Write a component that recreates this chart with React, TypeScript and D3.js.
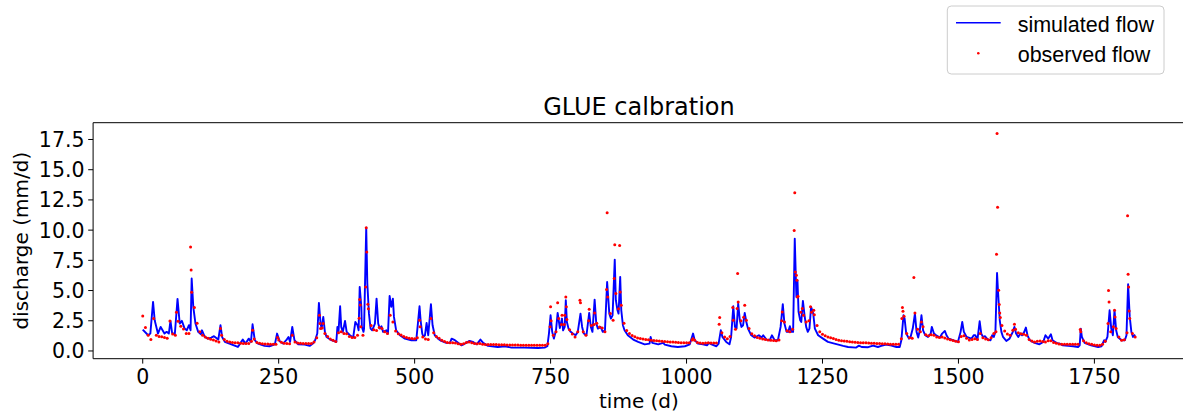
import React from "react";
import * as d3 from "d3";

// ---------- data ----------
const simDays = [
  0, 10, 14, 19, 22, 28, 33, 40, 44, 48, 51, 54, 59, 64, 68, 72, 77, 81, 85, 88,
  90, 93, 97, 102, 107, 109, 114, 120, 126, 131, 139, 143, 146, 151, 163, 175, 180, 184, 189, 195,
  199, 202, 206, 212, 224, 233, 243, 247, 252, 258, 264, 268, 271, 275, 279, 286, 298, 307, 313, 317,
  321, 324, 327, 329, 332, 335, 338, 347, 356, 358, 360, 363, 365, 368, 372, 375, 381, 387, 391, 395,
  397, 399, 402, 403, 406, 407, 411, 413, 416, 419, 422, 427, 430, 433, 436, 439, 442, 448, 451, 454,
  457, 460, 462, 466, 473, 482, 494, 503, 506, 509, 511, 514, 516, 519, 522, 525, 530, 533, 537, 543,
  549, 558, 565, 568, 574, 586, 595, 601, 607, 614, 621, 626, 635, 653, 666, 678, 702, 727, 739, 744,
  747, 750, 753, 756, 760, 763, 767, 771, 773, 776, 778, 780, 783, 787, 791, 796, 800, 805, 808, 811,
  816, 821, 824, 827, 831, 834, 837, 842, 846, 850, 854, 858, 861, 864, 868, 870, 873, 875, 878, 880,
  883, 886, 892, 902, 911, 923, 932, 934, 937, 948, 957, 960, 972, 984, 997, 1006, 1012, 1015, 1021, 1030,
  1038, 1041, 1046, 1055, 1059, 1063, 1066, 1073, 1079, 1082, 1086, 1089, 1092, 1095, 1098, 1101, 1104, 1107, 1110, 1113,
  1119, 1125, 1133, 1138, 1141, 1147, 1153, 1157, 1162, 1168, 1173, 1177, 1180, 1184, 1187, 1190, 1193, 1196, 1199, 1202,
  1204, 1206, 1209, 1211, 1214, 1217, 1220, 1223, 1226, 1229, 1233, 1236, 1242, 1251, 1260, 1272, 1288, 1297, 1312, 1317,
  1322, 1334, 1343, 1352, 1358, 1367, 1377, 1386, 1392, 1395, 1399, 1401, 1404, 1409, 1412, 1416, 1420, 1423, 1426, 1429,
  1432, 1435, 1439, 1444, 1449, 1451, 1455, 1459, 1466, 1470, 1475, 1478, 1482, 1490, 1499, 1504, 1507, 1510, 1515, 1524,
  1528, 1531, 1535, 1539, 1542, 1545, 1549, 1554, 1559, 1562, 1565, 1568, 1571, 1573, 1576, 1579, 1582, 1588, 1594, 1600,
  1603, 1606, 1610, 1614, 1617, 1621, 1624, 1627, 1631, 1640, 1649, 1656, 1660, 1665, 1670, 1673, 1680, 1686, 1692, 1702,
  1711, 1720, 1723, 1725, 1727, 1732, 1744, 1757, 1763, 1768, 1770, 1774, 1778, 1781, 1784, 1787, 1790, 1793, 1800, 1806,
  1809, 1812, 1815, 1818, 1821, 1825,
];

const simValues = [
  1.77, 1.30, 1.44, 4.06, 2.54, 1.44, 1.99, 1.44, 1.58, 1.44, 2.49, 1.49, 1.38, 4.31, 2.27, 2.49, 1.85, 1.71, 2.13, 1.71,
  6.0, 3.65, 2.27, 1.58, 1.38, 1.71, 1.16, 1.02, 1.11, 1.22, 0.94, 2.13, 1.16, 0.75, 0.55, 0.33, 0.67, 0.94, 0.61, 1.02,
  0.75, 2.21, 0.89, 0.61, 0.42, 0.39, 0.55, 1.44, 0.80, 0.61, 0.89, 1.16, 0.75, 1.99, 0.89, 0.55, 0.53, 0.42, 0.61, 0.89,
  1.44, 3.98, 2.27, 1.85, 2.82, 1.58, 1.16, 0.89, 0.75, 1.99, 1.58, 3.70, 1.99, 1.58, 2.49, 1.58, 1.30, 1.11, 2.40, 2.13,
  1.71, 5.30, 3.65, 1.99, 1.58, 1.85, 10.21, 5.58, 3.09, 1.85, 1.71, 2.27, 4.33, 2.27, 1.85, 2.05, 1.58, 1.71, 1.44, 4.55,
  3.65, 4.33, 2.82, 1.71, 1.30, 1.02, 0.89, 0.89, 2.27, 3.70, 2.54, 1.44, 1.16, 1.30, 2.32, 1.30, 3.87, 2.13, 1.30, 1.02,
  0.83, 0.67, 0.67, 1.02, 0.89, 0.47, 0.67, 0.83, 0.75, 0.55, 0.94, 0.67, 0.42, 0.33, 0.39, 0.28, 0.28, 0.25, 0.28, 0.39,
  1.44, 2.95, 1.58, 1.02, 1.71, 3.15, 1.90, 2.68, 1.71, 1.99, 4.20, 2.40, 1.85, 1.58, 1.44, 1.30, 1.58, 3.09, 1.99, 1.44,
  1.30, 3.15, 1.99, 1.58, 4.25, 2.27, 1.85, 1.99, 1.58, 1.71, 5.71, 3.09, 2.68, 2.95, 7.56, 4.20, 3.37, 3.09, 6.13, 3.37,
  2.13, 1.71, 1.30, 0.94, 0.75, 0.55, 0.61, 1.16, 0.67, 0.55, 0.67, 0.53, 0.39, 0.33, 0.39, 0.55, 1.44, 0.89, 0.61, 0.55,
  0.47, 0.67, 0.55, 0.39, 0.61, 1.71, 1.16, 0.75, 0.55, 1.16, 3.70, 1.99, 1.85, 3.92, 2.54, 1.99, 2.13, 3.15, 2.40, 1.85,
  1.30, 1.11, 1.30, 1.11, 1.30, 0.94, 0.89, 1.30, 0.89, 0.89, 1.99, 3.87, 2.27, 1.58, 1.58, 2.05, 1.58, 1.58, 9.30, 4.47,
  5.85, 3.23, 2.54, 2.40, 4.14, 2.95, 1.99, 1.58, 1.85, 3.65, 3.09, 1.85, 1.30, 1.02, 0.75, 0.61, 0.42, 0.33, 0.28, 0.44,
  0.33, 0.31, 0.44, 0.33, 0.42, 0.53, 0.44, 0.33, 0.33, 0.89, 2.95, 2.68, 1.44, 1.02, 1.16, 1.85, 3.09, 1.58, 1.11, 1.71,
  2.95, 1.71, 1.30, 1.16, 1.44, 1.99, 1.44, 1.30, 1.11, 1.44, 1.66, 1.30, 1.02, 0.89, 0.75, 1.58, 2.40, 1.58, 1.16, 1.02,
  1.30, 1.30, 0.94, 2.46, 1.44, 1.16, 1.22, 0.94, 0.89, 1.30, 1.16, 1.58, 6.45, 4.75, 2.54, 1.58, 1.16, 0.83, 1.02, 1.58,
  1.99, 1.44, 1.16, 1.44, 1.30, 1.58, 1.94, 1.30, 0.89, 0.67, 0.55, 0.75, 1.30, 1.02, 1.38, 0.89, 0.67, 0.61, 0.47, 0.42,
  0.39, 0.33, 0.47, 1.85, 1.16, 0.67, 0.47, 0.33, 0.39, 0.89, 0.75, 1.16, 3.37, 1.85, 1.30, 3.37, 1.71, 1.16, 0.89, 0.89,
  1.30, 5.52, 2.82, 1.58, 1.16, 1.35,
];

// observed flow, one reading every 5 days (day 0, 5, 10, ... 1825)
const obsStep = 5;
const obsValues = [
  2.90, 1.95, 1.30, 0.95, 2.68, 1.30, 1.20, 1.17, 1.12, 1.05,
  2.49, 1.40, 1.30, 2.45, 2.05, 1.82, 1.44, 1.44, 4.85, 3.60,
  2.30, 1.58, 1.30, 1.15, 1.05, 0.96, 0.90, 0.82, 0.75, 1.30,
  0.95, 0.80, 0.74, 0.70, 0.68, 0.67, 0.64, 0.62, 0.61, 0.62,
  0.80, 1.00, 0.70, 0.63, 0.60, 0.58, 0.57, 0.55, 0.55, 0.56,
  0.90, 0.72, 0.63, 0.61, 0.60, 1.30, 0.75, 0.66, 0.63, 0.62,
  0.61, 0.61, 0.61, 0.75, 1.10, 2.95, 1.90, 1.44, 1.20, 1.00,
  0.88, 0.78, 1.50, 1.60, 1.45, 1.42, 1.20, 1.12, 1.11, 1.30,
  3.80, 1.30, 5.30, 3.50, 2.10, 1.75, 1.70, 1.95, 1.85, 1.58,
  1.45, 2.95, 2.40, 1.65, 1.42, 1.32, 1.20, 1.11, 1.06, 1.04,
  1.02, 1.10, 2.00, 1.15, 1.00, 0.94, 2.68, 1.50, 1.20, 1.05,
  0.89, 0.78, 0.70, 0.67, 0.67, 0.66, 0.60, 0.56, 0.60, 0.70,
  0.74, 0.68, 0.62, 0.60, 0.61, 0.56, 0.53, 0.53, 0.53, 0.53,
  0.53, 0.52, 0.52, 0.51, 0.50, 0.50, 0.50, 0.50, 0.49, 0.48,
  0.47, 0.47, 0.47, 0.47, 0.47, 0.47, 0.47, 0.47, 0.47, 0.60,
  3.65, 1.30, 1.60, 2.68, 2.20, 2.20, 2.60, 1.75, 1.40, 1.16,
  1.58, 3.98, 1.58, 1.30, 2.50, 2.10, 2.20, 2.30, 1.99, 1.90,
  1.58, 4.47, 3.10, 2.54, 4.75, 3.50, 3.78, 2.30, 1.70, 1.45,
  1.28, 1.18, 1.08, 1.03, 0.98, 0.95, 0.92, 0.89, 0.87, 0.85,
  0.83, 0.81, 0.79, 0.77, 0.75, 0.74, 0.72, 0.70, 0.69, 0.68,
  0.67, 0.67, 0.90, 0.89, 0.70, 0.66, 0.64, 0.65, 0.67, 0.66,
  0.66, 0.66, 2.21, 1.50, 1.15, 1.02, 1.20, 3.59, 1.80, 4.06,
  2.50, 2.80, 2.54, 1.85, 1.42, 1.25, 1.12, 1.05, 0.98, 0.94,
  0.91, 0.89, 0.87, 0.85, 0.90, 2.50, 2.40, 1.68, 1.58, 1.80,
  6.54, 4.52, 3.20, 2.95, 2.40, 2.50, 3.20, 3.00, 2.10, 1.60,
  1.38, 1.25, 1.16, 1.10, 1.04, 0.95, 0.89, 0.85, 0.82, 0.80,
  0.77, 0.75, 0.73, 0.71, 0.69, 0.68, 0.67, 0.65, 0.64, 0.63,
  0.62, 0.61, 0.60, 0.59, 0.58, 0.56, 0.55, 0.55, 0.55, 1.02,
  2.87, 1.45, 1.10, 1.05, 3.15, 1.80, 1.60, 2.00, 1.35, 1.25,
  1.35, 1.30, 1.15, 1.12, 1.15, 1.08, 1.00, 0.92, 0.87, 0.80,
  0.76, 1.20, 1.25, 1.05, 0.90, 0.95, 1.02, 0.95, 1.44, 1.10,
  1.00, 0.93, 1.10, 1.45, 8.00, 3.84, 2.10, 1.65, 1.40, 1.30,
  1.71, 1.80, 1.50, 1.42, 1.38, 1.30, 0.95, 0.82, 0.75, 0.80,
  0.82, 0.78, 0.75, 0.85, 0.85, 0.70, 0.64, 0.58, 0.55, 0.55,
  0.55, 0.55, 0.55, 0.55, 0.55, 1.60, 0.85, 0.68, 0.60, 0.55,
  0.50, 0.48, 0.48, 0.55, 0.80, 2.27, 1.60, 2.00, 1.85, 1.15,
  0.89, 0.92, 1.50, 2.68, 1.45, 1.16,
];

// additional observed readings inside the flood peaks
const obsPeakDays = [
  62, 88, 89, 143, 202, 248, 326, 327, 332, 398, 399, 401, 411, 412, 414, 509,
  749, 751, 763, 771, 776, 778, 779, 804, 821, 831, 853, 854, 867, 868, 877, 878,
  1012, 1061, 1086, 1093, 1094, 1107, 1176, 1198, 1199, 1202, 1203, 1204, 1213, 1228, 1234,
  1396, 1397, 1398, 1418, 1432, 1569, 1571, 1572, 1574, 1576, 1577, 1603, 1724,
  1776, 1777, 1787, 1788, 1811, 1812, 1813, 1814,
];
const obsPeakValues = [
  3.20, 8.6, 6.7, 1.85, 1.71, 1.11, 2.27, 1.85, 2.27, 2.7, 4.25, 2.0, 10.2, 8.2, 3.87, 2.54,
  2.0, 2.5, 3.98, 2.95, 2.95, 4.47, 3.65, 4.2, 3.45, 3.15, 5.08, 11.43, 6.0, 8.78, 8.72, 4.89,
  1.02, 2.76, 2.54, 3.51, 6.41, 3.78, 3.23, 9.97, 13.1, 6.27, 5.85, 4.47, 3.51, 3.65, 3.37,
  2.68, 3.59, 3.29, 6.07, 2.40, 1.58, 18.0, 11.9, 5.02, 3.15, 2.76, 2.21, 1.77,
  5.0, 4.05, 3.37, 2.82, 11.2, 6.35, 5.3, 3.31,
];

const xTicks = [0, 250, 500, 750, 1000, 1250, 1500, 1750];
const yTicks = [0, 2.5, 5, 7.5, 10, 12.5, 15, 17.5];

const titleText = "GLUE calbration";
const xLabel = "time (d)";
const yLabel = "discharge (mm/d)";
const legendLabels = ["simulated flow", "observed flow"];

// ---------- layout ----------
const W = 1183;
const H = 419;
const plotLeft = 93.1;
const plotRight = 1184.8;
const plotTop = 122.7;
const plotBottom = 358.7;

const BLUE = "#0000ff";
const RED = "#ff0000";
const TICK_FONT = "'DejaVu Sans', sans-serif";
const LEG_FONT = "'Liberation Sans', Arial, sans-serif";

export default function App() {
  const x = d3.scaleLinear().domain([-91.25, 1916.25]).range([plotLeft, plotRight]);
  const y = d3.scaleLinear().domain([-0.64, 18.89]).range([plotBottom, plotTop]);

  const simPts: [number, number][] = simDays.map((d, i) => [d, simValues[i]]);
  const line = d3
    .line<[number, number]>()
    .x((p) => x(p[0]))
    .y((p) => y(p[1]));

  const obsPts: [number, number][] = obsValues
    .map((v, i) => [i * obsStep, v] as [number, number])
    .concat(obsPeakDays.map((d, i) => [d, obsPeakValues[i]] as [number, number]));

  const tickLen = 4.9;

  return (
    <svg
      width={W}
      height={H}
      style={{ position: "absolute", left: 0, top: 0, background: "#fff" }}
    >
      <rect x={0} y={0} width={W} height={H} fill="#fff" />

      {/* simulated flow line */}
      <path
        d={line(simPts) || ""}
        fill="none"
        stroke={BLUE}
        strokeWidth={1.9}
        strokeLinejoin="round"
      />

      {/* observed flow dots */}
      <g fill={RED}>
        {obsPts.map((p, i) => (
          <circle key={i} cx={x(p[0])} cy={y(p[1])} r={1.5} />
        ))}
      </g>

      {/* spines */}
      <g stroke="#000" strokeWidth={1} fill="none">
        <line x1={plotLeft} y1={plotTop} x2={plotLeft} y2={plotBottom} />
        <line x1={plotLeft} y1={plotBottom} x2={plotRight} y2={plotBottom} />
        <line x1={plotLeft} y1={plotTop} x2={plotRight} y2={plotTop} />
        <line x1={plotRight} y1={plotTop} x2={plotRight} y2={plotBottom} />
      </g>

      {/* x ticks */}
      {xTicks.map((t) => (
        <g key={"x" + t}>
          <line
            x1={x(t)}
            x2={x(t)}
            y1={plotBottom}
            y2={plotBottom + tickLen}
            stroke="#000"
            strokeWidth={1}
          />
          <text
            x={x(t)}
            y={384.3}
            textAnchor="middle"
            fontFamily={TICK_FONT}
            fontSize={20.5}
            fill="#000"
          >
            {String(t)}
          </text>
        </g>
      ))}

      {/* y ticks */}
      {yTicks.map((t) => (
        <g key={"y" + t}>
          <line
            x1={plotLeft - tickLen}
            x2={plotLeft}
            y1={y(t)}
            y2={y(t)}
            stroke="#000"
            strokeWidth={1}
          />
          <text
            x={84.5}
            y={y(t) + 7.5}
            textAnchor="end"
            fontFamily={TICK_FONT}
            fontSize={20.5}
            fill="#000"
          >
            {t.toFixed(1)}
          </text>
        </g>
      ))}

      {/* axis labels and title */}
      <text
        x={(plotLeft + plotRight) / 2}
        y={408.3}
        textAnchor="middle"
        fontFamily={TICK_FONT}
        fontSize={20}
        fill="#000"
      >
        {xLabel}
      </text>
      <text
        transform={`translate(28,${(plotTop + plotBottom) / 2}) rotate(-90)`}
        textAnchor="middle"
        fontFamily={TICK_FONT}
        fontSize={20}
        fill="#000"
      >
        {yLabel}
      </text>
      <text
        x={(plotLeft + plotRight) / 2}
        y={115}
        textAnchor="middle"
        fontFamily={TICK_FONT}
        fontSize={24}
        fill="#000"
      >
        {titleText}
      </text>

      {/* legend */}
      <g>
        <rect
          x={947.3}
          y={6}
          width={216.7}
          height={68}
          rx={4}
          ry={4}
          fill="#fff"
          fillOpacity={0.8}
          stroke="#cccccc"
          strokeWidth={1}
        />
        <line x1={956} x2={1000.7} y1={22.7} y2={22.7} stroke={BLUE} strokeWidth={1.5} />
        <circle cx={978.3} cy={53.3} r={1.3} fill={RED} />
        <text x={1017.7} y={31.5} fontFamily={LEG_FONT} fontSize={21.5} fill="#000">
          {legendLabels[0]}
        </text>
        <text x={1017.7} y={62} fontFamily={LEG_FONT} fontSize={21.5} fill="#000">
          {legendLabels[1]}
        </text>
      </g>
    </svg>
  );
}
